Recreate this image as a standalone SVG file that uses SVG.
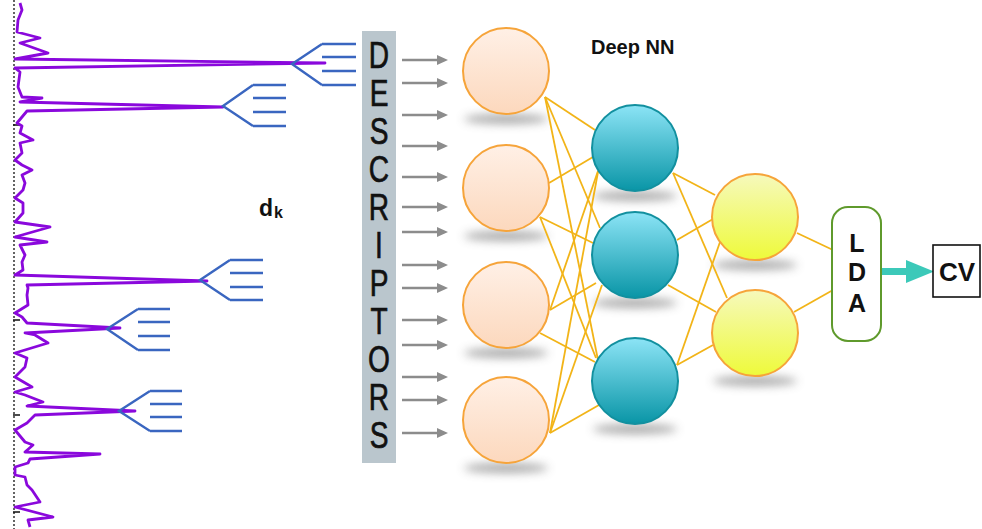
<svg xmlns="http://www.w3.org/2000/svg" width="982" height="529" viewBox="0 0 982 529">
<defs>
<style>
.spec{fill:none;stroke:#8a08dc;stroke-width:2.8;stroke-linejoin:round}
.fork{fill:none;stroke:#3a66c0;stroke-width:2.4}
.ga{stroke:#8c8c8c;stroke-width:2.6}
.gh{fill:#8c8c8c}
.con{stroke:#f2b418;stroke-width:1.8;fill:none}
.inp{fill:url(#gIn);stroke:#f6a43a;stroke-width:2}
.hid{fill:url(#gHid);stroke:#12909f;stroke-width:2}
.out{fill:url(#gOut);stroke:#f6a43a;stroke-width:2}
.sh{fill:#555;opacity:0.5;filter:url(#blur)}
.lt{font-family:"Liberation Sans",Arial,sans-serif;font-size:37px;fill:#111;stroke:#111;stroke-width:0.7;text-anchor:middle}
.b{font-family:"Liberation Sans",Arial,sans-serif;font-weight:bold;fill:#111}
</style>
<linearGradient id="gIn" x1="0" y1="0" x2="0" y2="1"><stop offset="0" stop-color="#fff0e6"/><stop offset="1" stop-color="#fcd8bd"/></linearGradient>
<linearGradient id="gHid" x1="0" y1="0" x2="0" y2="1"><stop offset="0" stop-color="#8ce4f6"/><stop offset="1" stop-color="#0995a6"/></linearGradient>
<linearGradient id="gOut" x1="0" y1="0" x2="0" y2="1"><stop offset="0" stop-color="#f6f9bc"/><stop offset="1" stop-color="#eefa3a"/></linearGradient>
<filter id="blur" x="-50%" y="-200%" width="200%" height="500%"><feGaussianBlur stdDeviation="5"/></filter>
</defs>
<rect width="982" height="529" fill="#fff"/>

<g id="spectrum">
<line x1="14" y1="0" x2="14" y2="529" stroke="#111" stroke-width="1.3" stroke-dasharray="2,2"/>
<path d="M13 125H20M13 320H20M13 415H20M13 512H20" stroke="#111" stroke-width="1.5"/>
<polyline class="spec" points="20,3 22,10 18,20 17,32 40,38 20,43 48,53 15,59 325,63 15,68 20,72 18,87 22,97 42,98 20,102 223,107 27,111 17,123 22,126 20,133 33,140 20,143 22,153 15,160 22,165 32,170 22,175 25,183 23,190 15,198 23,203 23,213 15,222 50,227 15,237 47,242 20,245 25,255 22,262 23,270 15,275 207,281 27,285 28,288 27,295 28,305 15,313 22,317 27,323 120,328 25,333 35,335 48,343 15,353 27,358 25,367 15,377 32,387 15,392 25,395 43,402 27,406 135,411 35,415 27,423 15,430 25,442 33,445 25,452 100,454 30,459 28,463 15,467 15,475 25,477 27,485 32,490 40,502 15,507 53,517 28,520 30,527"/>
</g>

<g id="forks">
<path class="fork" d="M322 44L292 64L322 85M322 44H356M322 57H356M322 71H356M322 85H356"/>
<path class="fork" d="M253 85L223 106L253 126M253 85H286M253 98H286M253 112H286M253 126H286"/>
<path class="fork" d="M230 260L200 280L230 300M230 260H263M230 273H263M230 287H263M230 300H263"/>
<path class="fork" d="M138 309L107 329L138 350M138 309H170M138 322H170M138 336H170M138 350H170"/>
<path class="fork" d="M150 391L119 411L150 431M150 391H182M150 404H182M150 417H182M150 431H182"/>
</g>

<g id="dk">
<text class="b" x="259" y="216" font-size="23">d</text>
<text class="b" x="274" y="218" font-size="16">k</text>
</g>

<g id="descriptors">
<rect x="362" y="31" width="34" height="432" fill="#bac6cd"/>
<g transform="translate(379,0) scale(0.76,1)">
<text class="lt" x="0" y="68">D</text>
<text class="lt" x="0" y="106">E</text>
<text class="lt" x="0" y="144">S</text>
<text class="lt" x="0" y="182">C</text>
<text class="lt" x="0" y="220">R</text>
<text class="lt" x="0" y="258">I</text>
<text class="lt" x="0" y="296">P</text>
<text class="lt" x="0" y="334">T</text>
<text class="lt" x="0" y="372">O</text>
<text class="lt" x="0" y="410">R</text>
<text class="lt" x="0" y="448">S</text>
</g>
</g>

<g id="input-arrows">
<g class="ga">
<line x1="402" y1="60" x2="438" y2="60"/><line x1="402" y1="83" x2="438" y2="83"/><line x1="402" y1="115" x2="438" y2="115"/><line x1="402" y1="146" x2="438" y2="146"/><line x1="402" y1="177" x2="438" y2="177"/><line x1="402" y1="207" x2="438" y2="207"/><line x1="402" y1="232" x2="438" y2="232"/><line x1="402" y1="265" x2="438" y2="265"/><line x1="402" y1="288" x2="438" y2="288"/><line x1="402" y1="320" x2="438" y2="320"/><line x1="402" y1="345" x2="438" y2="345"/><line x1="402" y1="377" x2="438" y2="377"/><line x1="402" y1="400" x2="438" y2="400"/><line x1="402" y1="433" x2="438" y2="433"/>
</g>
<g class="gh">
<path d="M437 55L448 60L437 65Z"/><path d="M437 78L448 83L437 88Z"/><path d="M437 110L448 115L437 120Z"/><path d="M437 141L448 146L437 151Z"/><path d="M437 172L448 177L437 182Z"/><path d="M437 202L448 207L437 212Z"/><path d="M437 227L448 232L437 237Z"/><path d="M437 260L448 265L437 270Z"/><path d="M437 283L448 288L437 293Z"/><path d="M437 315L448 320L437 325Z"/><path d="M437 340L448 345L437 350Z"/><path d="M437 372L448 377L437 382Z"/><path d="M437 395L448 400L437 405Z"/><path d="M437 428L448 433L437 438Z"/>
</g>
</g>

<g id="shadows">
<ellipse class="sh" cx="506" cy="119" rx="42" ry="5"/>
<ellipse class="sh" cx="506" cy="236" rx="42" ry="5"/>
<ellipse class="sh" cx="506" cy="353" rx="42" ry="5"/>
<ellipse class="sh" cx="506" cy="468" rx="42" ry="5"/>
<ellipse class="sh" cx="635" cy="196" rx="42" ry="5"/>
<ellipse class="sh" cx="635" cy="303" rx="42" ry="5"/>
<ellipse class="sh" cx="635" cy="429" rx="42" ry="5"/>
<ellipse class="sh" cx="755" cy="265" rx="42" ry="5"/>
<ellipse class="sh" cx="755" cy="381" rx="42" ry="5"/>
</g>

<g id="connectors">
<g class="con">
<line x1="545" y1="97" x2="595" y2="130"/>
<line x1="545" y1="97" x2="600" y2="228"/>
<line x1="545" y1="97" x2="598" y2="360"/>
<line x1="549" y1="183" x2="593" y2="157"/>
<line x1="540" y1="217" x2="593" y2="243"/>
<line x1="540" y1="217" x2="596" y2="358"/>
<line x1="550" y1="310" x2="596" y2="283"/>
<line x1="550" y1="310" x2="598" y2="171"/>
<line x1="540" y1="333" x2="595" y2="362"/>
<line x1="550" y1="433" x2="599" y2="405"/>
<line x1="550" y1="433" x2="602" y2="285"/>
<line x1="550" y1="433" x2="598" y2="172"/>
<line x1="673" y1="173" x2="715" y2="195"/>
<line x1="673" y1="173" x2="727" y2="298"/>
<line x1="677" y1="240" x2="713" y2="219"/>
<line x1="668" y1="285" x2="716" y2="312"/>
<line x1="677" y1="365" x2="713" y2="345"/>
<line x1="677" y1="365" x2="720" y2="242"/>
<line x1="797" y1="233" x2="833" y2="250"/>
<line x1="794" y1="312" x2="833" y2="290"/>
</g>
<g id="cv-arrow" fill="#3cc9b9">
<rect x="882" y="268" width="27" height="7"/>
<path d="M906 260L934 271.5L906 283Z"/>
</g>
</g>

<g id="in1"><circle class="inp" cx="506" cy="71" r="43"/></g>
<g id="in2"><circle class="inp" cx="506" cy="188" r="43"/></g>
<g id="in3"><circle class="inp" cx="506" cy="305" r="43"/></g>
<g id="in4"><circle class="inp" cx="506" cy="420" r="43"/></g>
<g id="hid1"><circle class="hid" cx="635" cy="148" r="43"/></g>
<g id="hid2"><circle class="hid" cx="635" cy="255" r="43"/></g>
<g id="hid3"><circle class="hid" cx="635" cy="381" r="43"/></g>
<g id="out1"><circle class="out" cx="755" cy="217" r="43"/></g>
<g id="out2"><circle class="out" cx="755" cy="333" r="43"/></g>

<g id="title"><text class="b" x="591" y="54" font-size="20">Deep NN</text></g>

<g id="lda">
<rect x="832" y="207" width="49" height="134" rx="16" fill="#fff" stroke="#5f9a2c" stroke-width="2"/>
<text class="b" x="857" y="252" font-size="25" text-anchor="middle">L</text>
<text class="b" x="857" y="281" font-size="25" text-anchor="middle">D</text>
<text class="b" x="857" y="312" font-size="25" text-anchor="middle">A</text>
</g>

<g id="cv">
<rect x="933" y="245" width="47" height="52" fill="#fff" stroke="#111" stroke-width="1.6"/>
<text class="b" x="957" y="281" font-size="26" text-anchor="middle">CV</text>
</g>
</svg>
